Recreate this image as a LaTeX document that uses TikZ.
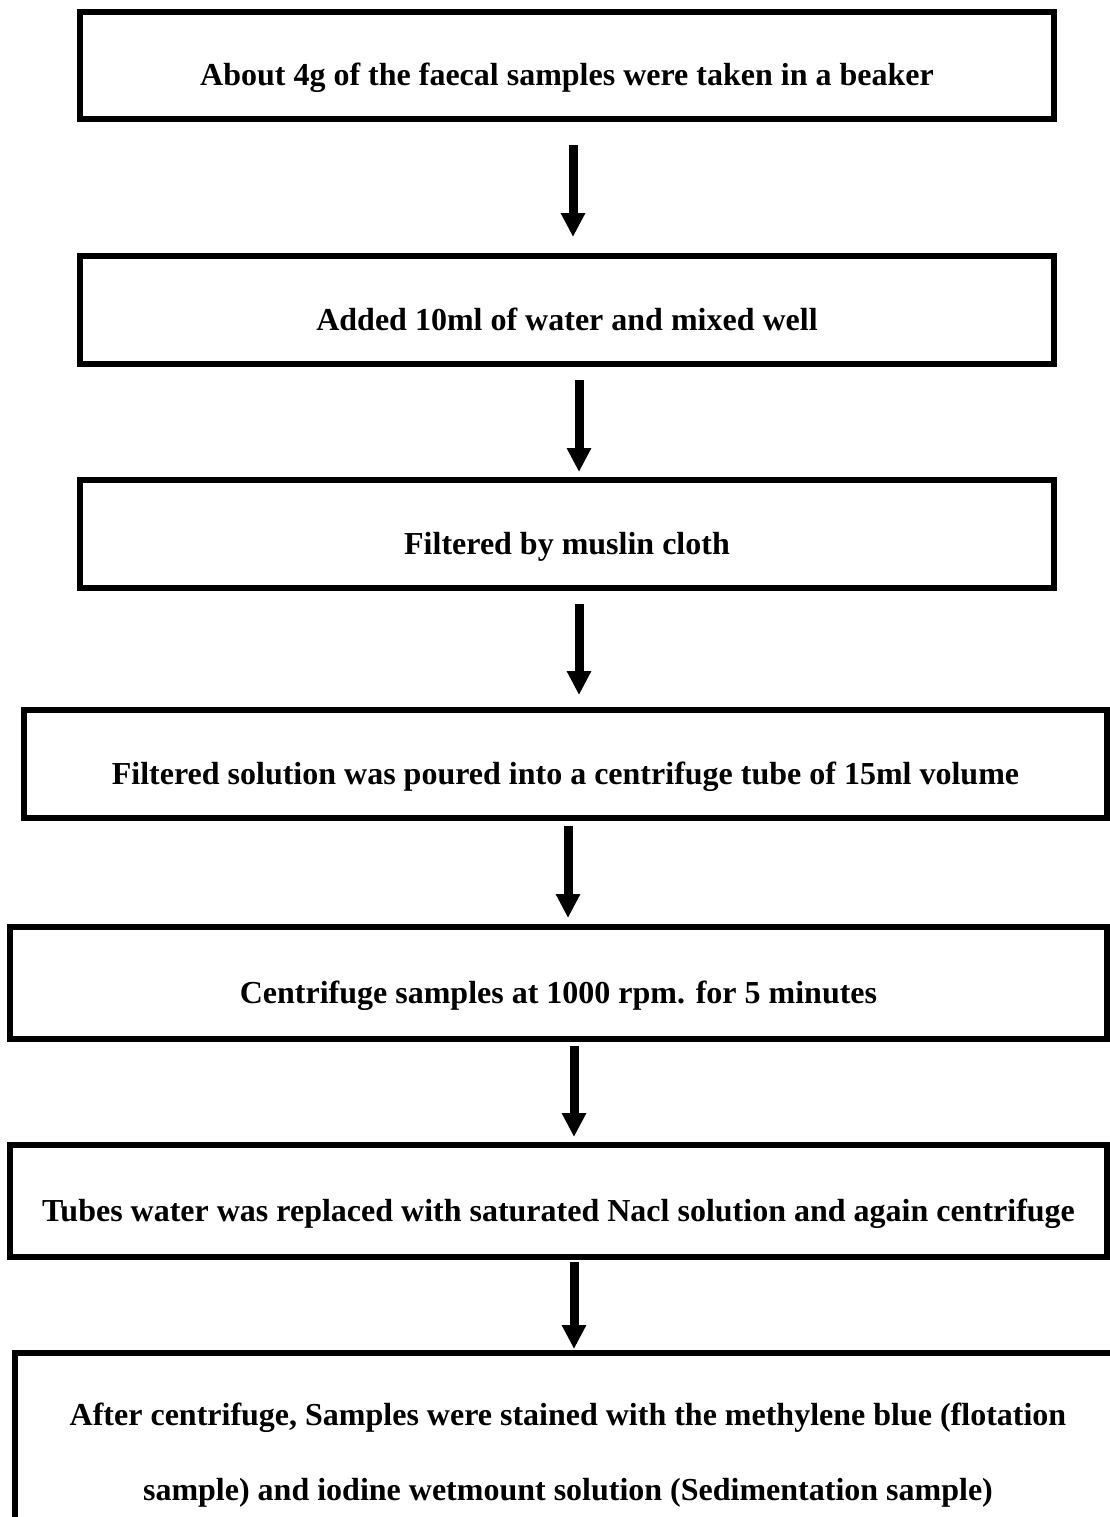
\documentclass[tikz,border=0pt]{standalone}
\usepackage{fontspec}
\setmainfont{Liberation Serif}
\usetikzlibrary{arrows.meta}

\begin{document}
\begin{tikzpicture}[
        x=1pt, y=-1pt,
        box/.style={rectangle, draw=black, line width=6pt, inner sep=0pt,
                    font=\fontsize{32}{75}\selectfont\bfseries},
        stepbox/.style={box, text height=44pt, text depth=4pt},
        flow/.style={line width=9pt, -{Triangle[length=24pt, width=23pt]}},
      ]
        \fill[white] (0,0) rectangle (1110,1517);
        \useasboundingbox (0,0) rectangle (1110,1517);
        \node[stepbox, minimum width=974pt, minimum height=107pt] (s1) at (567,65.5) {About 4g of the faecal samples were taken in a beaker};
        \node[stepbox, minimum width=974pt, minimum height=108pt] (s2) at (567,310) {Added 10ml of water and mixed well};
        \node[stepbox, minimum width=974pt, minimum height=108pt] (s3) at (567,534) {Filtered by muslin cloth};
        \node[stepbox, minimum width=1083pt, minimum height=108pt] (s4) at (565.5,764) {Filtered solution was poured into a centrifuge tube of 15ml volume};
        \node[stepbox, minimum width=1097pt, minimum height=112pt] (s5) at (558.5,983) {Centrifuge samples at 1000 rpm. for 5 minutes};
        \node[stepbox, minimum width=1097pt, minimum height=112pt] (s6) at (558.5,1201) {Tubes water was replaced with saturated Nacl solution and again centrifuge};
        \node[box, align=center, minimum width=1106pt, minimum height=204pt] (s7) at (568,1455) {After centrifuge, Samples were stained with the methylene blue (flotation\\sample) and iodine wetmount solution (Sedimentation sample)};

        \draw[flow] ([xshift=6pt, yshift=-23pt]s1.south) -- ([xshift=6pt, yshift=16pt]s2.north);
        \draw[flow] ([xshift=12pt, yshift=-13pt]s2.south) -- ([xshift=12pt, yshift=5pt]s3.north);
        \draw[flow] ([xshift=12pt, yshift=-13pt]s3.south) -- ([xshift=13.5pt, yshift=12pt]s4.north);
        \draw[flow] ([xshift=2.5pt, yshift=-5pt]s4.south) -- ([xshift=9.5pt, yshift=6pt]s5.north);
        \draw[flow] ([xshift=15.5pt, yshift=-4pt]s5.south) -- ([xshift=15.5pt, yshift=5pt]s6.north);
        \draw[flow] ([xshift=15.5pt, yshift=-2pt]s6.south) -- ([xshift=6pt, yshift=1pt]s7.north);
\end{tikzpicture}
\end{document}
